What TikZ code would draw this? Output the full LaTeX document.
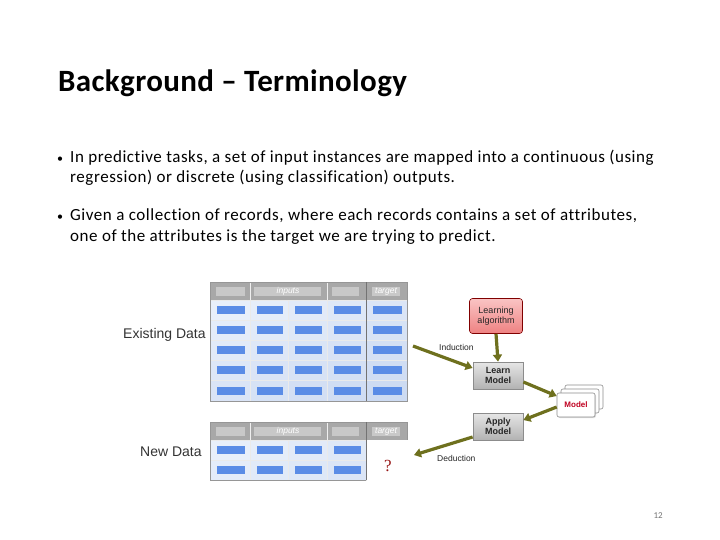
\documentclass[tikz,border=0pt]{standalone}
\usepackage{fontspec}
\setmainfont[RawFeature=-liga]{Carlito}
\newfontfamily\bodyf[RawFeature=-liga,LetterSpace=3.2]{Carlito}
\newfontfamily\titlef[RawFeature=-liga,LetterSpace=1.2]{Carlito}
\newfontfamily\arialf{Liberation Sans}
\newfontfamily\serift{Liberation Serif}
\usetikzlibrary{arrows.meta,shadows}
\definecolor{tframe}{RGB}{150,150,150}
\definecolor{theader}{RGB}{168,168,168}
\definecolor{thbox}{RGB}{200,200,200}
\definecolor{cellL}{RGB}{232,239,250}
\definecolor{cellD}{RGB}{192,209,238}
\definecolor{barblue}{RGB}{90,140,230}
\definecolor{olive}{RGB}{110,112,30}
\definecolor{pinkT}{RGB}{250,196,196}
\definecolor{pinkB}{RGB}{238,130,130}
\definecolor{modelred}{RGB}{192,0,32}
\definecolor{qred}{RGB}{150,20,20}
\tikzset{
  titletext/.style={anchor=base west, inner sep=0pt, font=\titlef\fontsize{31}{34}\selectfont\bfseries},
  bodytext/.style={anchor=base west, inner sep=0pt, font=\bodyf\fontsize{17}{19}\selectfont},
  bulletmark/.style={anchor=base west, inner sep=0pt, font=\fontsize{12}{14}\selectfont},
  datalabel/.style={anchor=west, inner sep=0pt, text=black!80, font=\arialf\fontsize{14}{16}\selectfont},
  hdrtext/.style={inner sep=0pt, text=white, font=\arialf\itshape\fontsize{8.5}{9}\selectfont},
  grayproc/.style={draw=black!45, line width=0.8pt, top color=black!10, bottom color=black!30,
     minimum width=50pt, minimum height=27pt, inner sep=0pt, align=center,
     font=\arialf\bfseries\fontsize{9}{10.5}\selectfont, text=black!85},
  learnalg/.style={draw=red!50!black, line width=0.6pt, rounded corners=3pt, top color=pinkT, bottom color=pinkB,
     minimum width=53pt, minimum height=35pt, inner sep=0pt, align=center,
     font=\arialf\fontsize{9}{10.5}\selectfont, text=black!85},
  modelbox/.style={draw=black!45, line width=0.6pt, rounded corners=2pt, fill=white,
     minimum width=38pt, minimum height=24pt, inner sep=0pt},
  oarrow/.style={draw=olive, line width=3.2pt, -{Triangle[length=7pt,width=9pt]}},
  smalllabel/.style={inner sep=0pt, text=black!85, font=\arialf\fontsize{8.5}{9}\selectfont},
}
\begin{document}
\begin{tikzpicture}[x=1pt,y=-1pt]
\useasboundingbox (0,0) rectangle (720,540);
% title
\node[titletext] (title) at (58,92) {Background – Terminology};
% bullets
\node[bulletmark] (b1) at (57,163) {•};
\node[bodytext] (t1a) at (70,163) {In predictive tasks, a set of input instances are mapped into a continuous (using};
\node[bodytext] (t1b) at (70,183) {regression) or discrete (using classification) outputs.};
\node[bulletmark] (b2) at (57,221) {•};
\node[bodytext] (t2a) at (70,221) {Given a collection of records, where each records contains a set of attributes,};
\node[bodytext] (t2b) at (70,241) {one of the attributes is the target we are trying to predict.};
% page number
\node[inner sep=0pt, anchor=base east, text=black!55, font=\fontsize{9}{10}\selectfont] (pg) at (663,518) {12};

% ---------- Existing data table ----------
\def\xs{{210,250,288,327,366,407}}
\def\ys{{300,320,340,360,380,401}}
\foreach \c in {0,...,4}{
  \foreach \r in {0,...,4}{
    \pgfmathsetmacro{\xa}{\xs[\c]}\pgfmathsetmacro{\xb}{\xs[\c+1]}
    \pgfmathsetmacro{\ya}{\ys[\r]}\pgfmathsetmacro{\yb}{\ys[\r+1]}
    \pgfmathtruncatemacro{\pc}{8*\c+9*\r}
    \fill[cellD!\pc!cellL, draw=white!80!tframe, line width=0.6pt] (\xa,\ya) rectangle (\xb,\yb);
    \fill[barblue] (\xa+7,{(\ya+\yb)/2-4}) rectangle (\xb-5,{(\ya+\yb)/2+4});
  }
}
\fill[theader] (210,282) rectangle (407,300);
\fill[thbox] (216,287) rectangle (245,296);
\fill[thbox] (254,287) rectangle (321,296);
\fill[thbox] (332,287) rectangle (359,296);
\fill[thbox] (372,287) rectangle (400,296);
\draw[white!85!tframe, line width=0.5pt] (250,282) -- (250,300) (327,282) -- (327,300);
\node[hdrtext] (in1) at (288,291.5) {inputs};
\node[hdrtext] (tg1) at (386,291.5) {target};
\draw[tframe, line width=0.8pt] (210,282) rectangle (407,401);
\draw[black!55, line width=0.8pt] (366,282) -- (366,401);
\node[datalabel] (exist) at (123,335) {Existing Data};

% ---------- New data table ----------
\def\ysn{{440,460,480}}
\foreach \c in {0,...,3}{
  \foreach \r in {0,1}{
    \pgfmathsetmacro{\xa}{\xs[\c]}\pgfmathsetmacro{\xb}{\xs[\c+1]}
    \pgfmathsetmacro{\ya}{\ysn[\r]}\pgfmathsetmacro{\yb}{\ysn[\r+1]}
    \pgfmathtruncatemacro{\pc}{8*\c+9*\r}
    \fill[cellD!\pc!cellL, draw=white!80!tframe, line width=0.6pt] (\xa,\ya) rectangle (\xb,\yb);
    \fill[barblue] (\xa+7,{(\ya+\yb)/2-4}) rectangle (\xb-5,{(\ya+\yb)/2+4});
  }
}
\fill[theader] (210,422) rectangle (407,440);
\fill[thbox] (216,427) rectangle (245,436);
\fill[thbox] (254,427) rectangle (321,436);
\fill[thbox] (332,427) rectangle (359,436);
\fill[thbox] (372,427) rectangle (400,436);
\draw[white!85!tframe, line width=0.5pt] (250,422) -- (250,440) (327,422) -- (327,440);
\node[hdrtext] (in2) at (288,431.5) {inputs};
\node[hdrtext] (tg2) at (386,431.5) {target};
\draw[tframe, line width=0.8pt] (366,480) -- (210,480) -- (210,422) -- (407,422) -- (407,440);
\draw[black!55, line width=0.8pt] (366,422) -- (366,480);
\node[inner sep=0pt, text=qred, font=\serift\fontsize{17}{18}\selectfont] (q) at (388,466) {?};
\node[datalabel] (newd) at (140,452) {New Data};

% ---------- process ----------
\node[learnalg] (alg) at (496,316) {Learning\\algorithm};
\node[grayproc] (learn) at (498,375.5) {Learn\\Model};
\node[grayproc] (apply) at (498,426.5) {Apply\\Model};
\node[modelbox] (m3) at (584,397) {};
\node[modelbox] (m2) at (580,401) {};
\node[modelbox, drop shadow={opacity=0.25, shadow xshift=1pt, shadow yshift=-1pt}] (m1) at (576,405) {};
\node[inner sep=0pt, text=modelred, font=\arialf\bfseries\fontsize{8}{9}\selectfont] (mtxt) at (m1) {Model};

\coordinate (ind0) at (413,346);
\coordinate (ded1) at (414,455);
\draw[oarrow] (alg.south) -- (learn.north);
\draw[oarrow] (ind0) -- (learn.west |- 0,368);
\draw[oarrow] (learn.east |- 0,382) -- (m1.west |- 0,396);
\draw[oarrow] (m1.west |- 0,407) -- (apply.east |- 0,420);
\draw[oarrow] (apply.west |- 0,437) -- (ded1);
\node[smalllabel, anchor=west] (indl) at (439,347) {Induction};
\node[smalllabel, anchor=west] (dedl) at (437,458) {Deduction};
\end{tikzpicture}
\end{document}
